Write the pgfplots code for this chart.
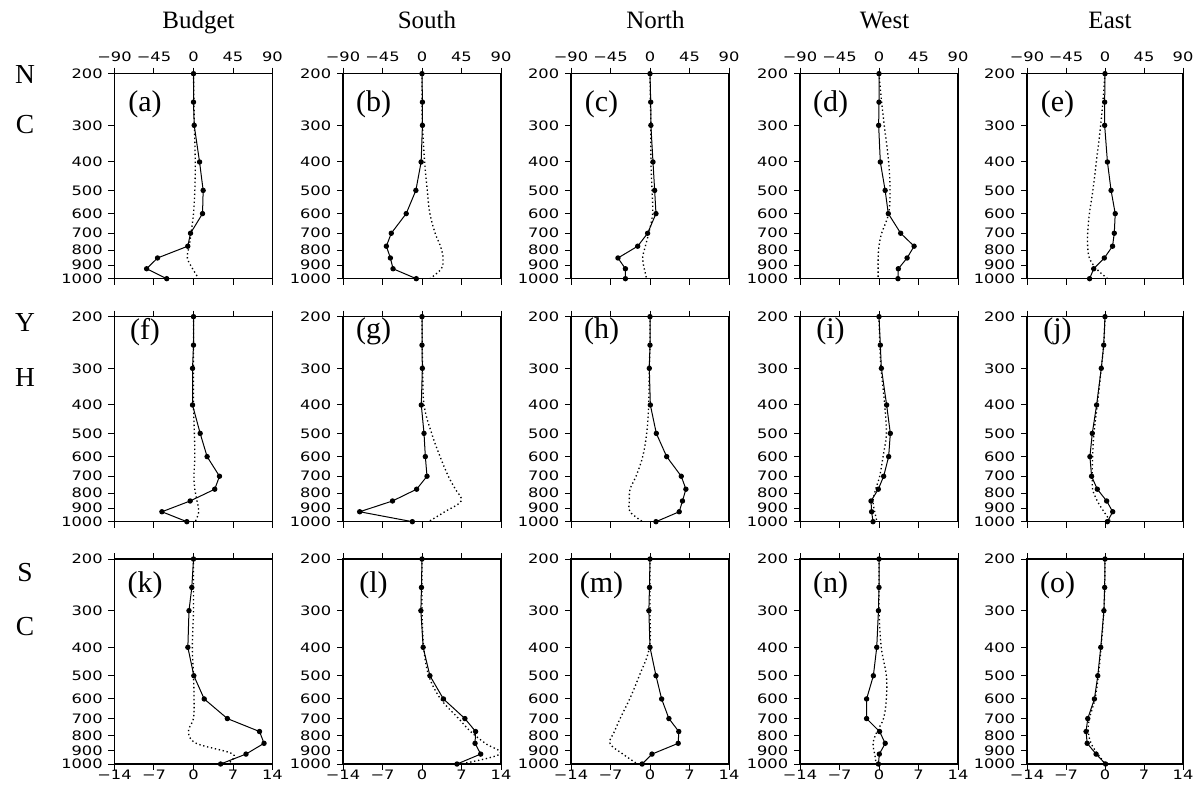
\documentclass[border=0pt]{standalone}
\usepackage{fontspec}
\setmainfont{Liberation Serif}
\newfontfamily\tickfont{DejaVu Sans}
\usepackage{pgfplots}
\usepackage{pgfplotstable}
\pgfplotsset{compat=1.18}
% NCL-like wide sans tick numbers
\newcommand{\sx}[1]{{\tickfont\fontsize{7.8}{9}\selectfont\scalebox{1.25}[1]{#1}}}

% profiles: p = pressure level (hPa); xS = solid (dots), xD = dotted, panels a..o
\pgfplotstableread[row sep=\\]{
p aS aD bS bD cS cD dS dD eS eD fS fD gS gD hS hD iS iD jS jD kS kD lS lD mS mD nS nD oS oD\\
200 0 0 0 0 0 0 0 0 0 0 0 0 0 0 0 0 0 0 0 0 0 0 0 0 0 0 0 0 0 0\\
250 0 0.5 0.5 0 0.8 0.5 0 3 -0.4 -2.5 0 0 0 0.3 0 0 1.5 1 -1.5 -1.5 -0.3 0 -0.1 0 -0.1 0 0 0 -0.06 -0.06\\
300 0.8 1 0.5 0.5 1 1 -0.4 6 -0.4 -5 -1.1 0 0.4 0.8 -0.8 -0.8 2.7 2.3 -4.3 -4.3 -0.8 0 -0.2 0 -0.2 0 -0.1 0 -0.2 -0.2\\
400 6.9 2 -1 3 3.4 1.1 1.5 11 2.8 -10 -1.1 0 -0.8 2.3 0.4 -1.5 8.7 6.5 -9.7 -8.9 -1.0 -0.2 0.2 0.3 0 -0.1 -0.4 0.4 -0.76 -0.7\\
500 11 1.5 -7 6 5.3 2.3 7 12.5 7 -14 7.6 1 2.3 11 7.2 -3.8 12.9 8.4 -14.7 -12.8 0.06 0 1.4 1.2 1.06 -1.9 -1.0 1.3 -1.3 -1.2\\
600 10.3 0 -18 9 6.8 3 10.6 11 11.8 -18 15.5 1.5 3.8 20.6 19 -8.3 11 4.6 -17.4 -14.3 1.9 0.1 3.8 3.3 2.06 -3.6 -2.2 1.3 -1.9 -1.8\\
700 -3.4 -2.7 -35 15 -2.7 -1.5 24.7 3 10.7 -20 29.6 0.5 5.7 30 35.6 -15.9 5.3 0.8 -15.5 -14.7 6.0 0 7.6 6.5 3.35 -5.3 -2.2 0.8 -3.1 -2.8\\
775 -6.5 -5 -40.6 21 -14 -5.3 40 0 8.7 -20 24.2 1.5 -6.1 38 40.9 -22.7 -0.8 -3.8 -8.9 -14.3 11.7 -0.9 9.5 8.6 5.1 -6.3 0.1 -0.35 -3.4 -3.0\\
850 -41 -7 -36 24 -36.5 -8.4 32 -1 -0.8 -18 -3.8 4 -33.6 44.6 37 -23.5 -9.1 -6.8 1.9 -8.9 12.5 0.5 9.4 11.2 5.0 -7.1 1.1 -1.06 -3.2 -2.5\\
925 -53.4 -1 -33 22 -28 -6.5 22 -1 -13 -10 -36 6 -71 26 33.3 -22.7 -8.4 -4.9 8.9 -1.2 9.3 7 10.4 13.8 0.35 -4.8 0.06 -0.76 -1.6 -1.3\\
1000 -30.5 6 -6.5 9 -28 -3.8 21.6 -1 -17.8 3 -7.6 2 -11 7.3 6.8 -8.3 -6.8 -2.3 2.7 6.6 4.8 6 6.2 6.8 -1.4 -2.2 -0.1 -0.5 0.1 0.1\\
}\prof

\pgfplotsset{
  prof axis/.style={
    scale only axis, height=123pt, anchor=south west,
    y dir=reverse, ymin=200, ymax=1000,
    ytick={200,300,400,500,600,700,800,900,1000},
    yticklabels={\sx{200},\sx{300},\sx{400},\sx{500},\sx{600},\sx{700},\sx{800},\sx{900},\sx{1000}},
    yminorticks=false, ytick pos=left, xtick pos=both,
    tick align=outside, major tick length=3.6pt,
    tick style={line width=0.6pt, black},
    axis line style={line width=0.9pt},
    tick label style={font=\tickfont\fontsize{7.8}{9}\selectfont},
  },
  rowA/.style={xmin=-90, xmax=90, xtick={-90,-45,0,45,90},
    xticklabels={\sx{−90},\sx{−45},\sx{0},\sx{45},\sx{90}}, xticklabel pos=right},
  rowB/.style={xmin=-90, xmax=90, xtick={-90,-45,0,45,90}, xticklabels={}},
  rowC/.style={xmin=-14, xmax=14, xtick={-14,-7,0,7,14},
    xticklabels={\sx{−14},\sx{−7},\sx{0},\sx{7},\sx{14}}, xticklabel pos=left,
    xticklabel style={yshift=3.5pt}},
  solidline/.style={black, line width=0.6pt, mark=*, mark size=1.3pt},
  dotline/.style={black, line width=0.8pt, dash pattern=on 0.8pt off 1.6pt, smooth, tension=0.6},
}

% #1 left, #2 bottom, #3 width, #4 row style, #5 panel letter, #6 label shift
\newcommand{\panel}[6]{%
  \begin{axis}[ymode=log, prof axis, #4, at={(#1,#2)}, width=#3, name=ax]
    \addplot[dotline] table[x=#5D, y=p]{\prof};
    \addplot[solidline] table[x=#5S, y=p]{\prof};
  \end{axis}
  \node[font=\fontsize{18}{20}\selectfont] at ([xshift=18.3pt, yshift=#6]ax.north west) {(#5)};
}

\begin{document}
\begin{tikzpicture}
\useasboundingbox (0,0) rectangle (718.2pt,-471.6pt);

\panel{68.7pt}{-167.2pt}{94.8pt}{rowA}{a}{-18.6pt}
\panel{205.8pt}{-167.2pt}{94.8pt}{rowA}{b}{-18.6pt}
\panel{342.6pt}{-167.2pt}{94.8pt}{rowA}{c}{-18.6pt}
\panel{480pt}{-167.2pt}{94.8pt}{rowA}{d}{-18.6pt}
\panel{616.2pt}{-167.2pt}{93.6pt}{rowA}{e}{-18.6pt}

\panel{68.7pt}{-313pt}{94.8pt}{rowB}{f}{-9pt}
\panel{205.8pt}{-313pt}{94.8pt}{rowB}{g}{-9pt}
\panel{342.6pt}{-313pt}{94.8pt}{rowB}{h}{-9pt}
\panel{480pt}{-313pt}{94.8pt}{rowB}{i}{-9pt}
\panel{616.2pt}{-313pt}{93.6pt}{rowB}{j}{-9pt}

\panel{68.7pt}{-458.4pt}{94.8pt}{rowC}{k}{-15.6pt}
\panel{205.8pt}{-458.4pt}{94.8pt}{rowC}{l}{-15.6pt}
\panel{342.6pt}{-458.4pt}{94.8pt}{rowC}{m}{-15.6pt}
\panel{480pt}{-458.4pt}{94.8pt}{rowC}{n}{-15.6pt}
\panel{616.2pt}{-458.4pt}{93.6pt}{rowC}{o}{-15.6pt}

\begin{scope}[every node/.style={font=\fontsize{15}{18}\selectfont, anchor=base}]
\node at (119.1pt,-16.8pt) {Budget};
\node at (256.2pt,-16.8pt) {South};
\node at (393.3pt,-16.8pt) {North};
\node at (530.7pt,-16.8pt) {West};
\node at (666pt,-16.8pt) {East};
\end{scope}

\begin{scope}[every node/.style={font=\fontsize{16.5}{18}\selectfont}]
\node at (15pt,-44.4pt) {N};
\node at (15pt,-75pt) {C};
\node at (15pt,-193.2pt) {Y};
\node at (15pt,-226.2pt) {H};
\node at (15pt,-343.8pt) {S};
\node at (15pt,-376.2pt) {C};
\end{scope}
\end{tikzpicture}
\end{document}
